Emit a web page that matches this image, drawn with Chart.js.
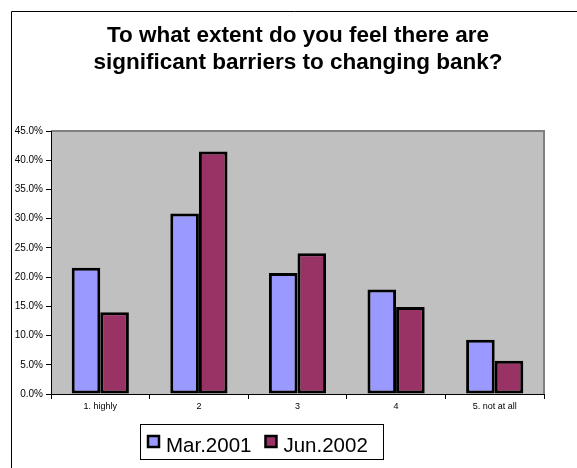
<!DOCTYPE html>
<html>
<head>
<meta charset="utf-8">
<script src="https://cdn.jsdelivr.net/npm/chart.js@4"></script>
<style>
  html, body { margin: 0; padding: 0; background: #fff; }
  canvas { display: block; }
</style>
</head>
<body>
<canvas id="chart" width="577" height="468"></canvas>
<script>
(function(){
    const categories = ["1. highly", "2", "3", "4", "5. not at all"];
    const seriesNames = ["Mar.2001", "Jun.2002"];
    const mar2001 = [21.6, 30.9, 20.7, 17.9, 9.3];
    const jun2002 = [14.0, 41.5, 24.1, 14.9, 5.7];
    const seriesColors = ["#9999FF", "#993366"];
    const titleLines = ["To what extent do you feel there are", "significant barriers to changing bank?"];
    const yMax = 45;
    const yStep = 5;

    const FONT = "'Liberation Sans', Arial, sans-serif";

    // plot background + gray frame on top/right, outer chart border
    const plotBg = {
        id: "plotBg",
        beforeDraw(chart) {
            const { ctx, chartArea: a } = chart;
            ctx.save();
            ctx.fillStyle = "#C0C0C0";
            ctx.fillRect(a.left, a.top, a.right - a.left, a.bottom - a.top);
            ctx.strokeStyle = "#808080";
            ctx.lineWidth = 2;
            ctx.beginPath();
            ctx.moveTo(a.left, a.top);
            ctx.lineTo(a.right, a.top);
            ctx.lineTo(a.right, a.bottom);
            ctx.stroke();

            ctx.strokeStyle = "#000";
            ctx.lineWidth = 1;
            ctx.beginPath();
            ctx.moveTo(11.5, chart.height);
            ctx.lineTo(11.5, 11.5);
            ctx.lineTo(chart.width, 11.5);
            ctx.stroke();
            ctx.restore();
        }
    };

    const titleAndLegend = {
        id: "titleAndLegend",
        afterDraw(chart) {
            const ctx = chart.ctx;
            ctx.save();
            ctx.fillStyle = "#000";
            ctx.textAlign = "center";
            ctx.textBaseline = "alphabetic";
            ctx.font = "bold 22.5px " + FONT;
            titleLines.forEach((t, i) => ctx.fillText(t, 298, 42 + i * 27));

            // legend box
            ctx.strokeStyle = "#000";
            ctx.lineWidth = 1;
            ctx.strokeRect(140.5, 424.5, 243, 35);
            ctx.font = "20.5px " + FONT;
            ctx.textAlign = "left";
            let x = 148;
            chart.data.datasets.forEach(ds => {
                ctx.fillStyle = ds.backgroundColor;
                ctx.fillRect(x, 436, 11, 11);
                ctx.lineWidth = 2.5;
                ctx.strokeRect(x, 436, 11, 11);
                ctx.fillStyle = "#000";
                ctx.fillText(ds.label, x + 18, 452);
                x += 18 + ctx.measureText(ds.label).width + 14;
            });
            ctx.restore();
        }
    };

    new Chart(document.getElementById("chart"), {
        type: "bar",
        data: {
            labels: categories,
            datasets: [
                { label: seriesNames[0], data: mar2001, backgroundColor: seriesColors[0] },
                { label: seriesNames[1], data: jun2002, backgroundColor: seriesColors[1] }
            ].map(d => Object.assign(d, {
                borderColor: "#000",
                borderWidth: 3,
                borderSkipped: false,
                categoryPercentage: 0.58,
                barPercentage: 1.0
            }))
        },
        options: {
            responsive: false,
            animation: false,
            layout: { padding: { left: 0, right: 33, top: 131, bottom: 44 } },
            plugins: {
                legend: { display: false },
                title: { display: false },
                tooltip: { enabled: false }
            },
            scales: {
                x: {
                    afterFit(scale) { scale.height = 30; },
                    grid: { drawOnChartArea: false, tickLength: 5, color: "#000" },
                    border: { color: "#000", width: 1 },
                    ticks: { color: "#000", font: { family: FONT, size: 9 }, padding: 2, maxRotation: 0, autoSkip: false }
                },
                y: {
                    min: 0,
                    max: yMax,
                    afterFit(scale) { scale.width = 51; },
                    grid: { drawOnChartArea: false, tickLength: 5, color: "#000" },
                    border: { color: "#000", width: 1 },
                    ticks: {
                        stepSize: yStep,
                        color: "#000",
                        padding: 3,
                        font: { family: FONT, size: 10 },
                        callback: v => v.toFixed(1) + "%"
                    }
                }
            }
        },
        plugins: [plotBg, titleAndLegend]
    });
})()
</script>
</body>
</html>
